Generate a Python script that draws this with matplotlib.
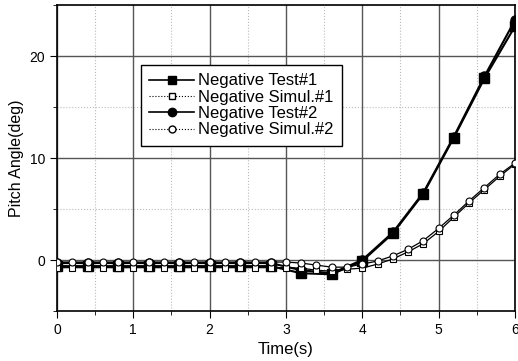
import numpy as np
import matplotlib
matplotlib.use("Agg")
import matplotlib.pyplot as plt
from matplotlib.lines import Line2D
from matplotlib.ticker import MultipleLocator

plt.rcParams['font.family'] = ['Liberation Sans', 'DejaVu Sans']

# Test data sampled every 0.4 s, simulation every 0.2 s
t_test = np.round(np.arange(0, 6.01, 0.4), 2)
t_sim = np.round(np.arange(0, 6.01, 0.2), 2)

test1 = [-0.6, -0.6, -0.6, -0.6, -0.6, -0.6, -0.6, -0.6,
         -1.3, -1.4, -0.1, 2.6, 6.5, 12.0, 17.8, 22.9]
test2 = [-0.3, -0.3, -0.3, -0.3, -0.3, -0.3, -0.3, -0.3,
         -1.0, -1.3, 0.0, 2.7, 6.6, 12.1, 18.0, 23.5]
simul1 = [-0.75] * 16 + [-0.8, -1.0, -1.1, -0.9, -0.8, -0.4, 0.1, 0.8,
                         1.6, 2.8, 4.2, 5.6, 6.9, 8.2, 9.4]
simul2 = [-0.2] * 16 + [-0.3, -0.5, -0.7, -0.7, -0.4, -0.1, 0.4, 1.05,
                        1.9, 3.1, 4.4, 5.8, 7.1, 8.4, 9.5]

labels = ["Negative Test#1", "Negative Simul.#1", "Negative Test#2", "Negative Simul.#2"]

fig = plt.figure(figsize=(5.18, 3.61), dpi=100)
ax = fig.add_axes([0.110, 0.1385, 0.884, 0.8475])

# grid: solid major, dotted minor
ax.xaxis.set_major_locator(MultipleLocator(1))
ax.xaxis.set_minor_locator(MultipleLocator(0.5))
ax.yaxis.set_major_locator(MultipleLocator(10))
ax.yaxis.set_minor_locator(MultipleLocator(5))
ax.grid(which='major', color='#555555', linewidth=1.0)
ax.grid(which='minor', color='#bbbbbb', linewidth=0.8, linestyle=':')
ax.set_axisbelow(True)

ax.plot(t_test, test1, color='black', linewidth=1.5, marker='s', markersize=6.5, zorder=2)
ax.plot(t_test, test2, color='black', linewidth=1.5, marker='o', markersize=6.5, zorder=2)
ax.plot(t_sim, simul1, color='black', linewidth=0.9, marker='s', markersize=5,
        markerfacecolor='white', markeredgecolor='black', markeredgewidth=0.8, zorder=3)
ax.plot(t_sim, simul2, color='black', linewidth=0.9, marker='o', markersize=5,
        markerfacecolor='white', markeredgecolor='black', markeredgewidth=0.8, zorder=3)

ax.set_xlim(0, 6)
ax.set_ylim(-5, 25)
ax.set_xlabel("Time(s)", fontsize=12)
ax.set_ylabel("Pitch Angle(deg)", fontsize=11.5)
ax.tick_params(which='both', direction='out', labelsize=10)
ax.tick_params(which='major', length=5)
ax.tick_params(which='minor', length=3)
for s in ax.spines.values():
    s.set_linewidth(1.2)

handles = [
    Line2D([], [], color='black', linewidth=1.2, marker='s', markersize=6),
    Line2D([], [], color='black', linewidth=0.8, linestyle=':', marker='s', markersize=5,
           markerfacecolor='white'),
    Line2D([], [], color='black', linewidth=1.2, marker='o', markersize=6),
    Line2D([], [], color='black', linewidth=0.8, linestyle=':', marker='o', markersize=5,
           markerfacecolor='white'),
]
leg = ax.legend(handles, labels, loc='upper left', bbox_to_anchor=(0.183, 0.804),
                fontsize=12, frameon=True, fancybox=False, edgecolor='black',
                framealpha=1, handlelength=2.7, handletextpad=0.25,
                labelspacing=0.08, borderpad=0.5, borderaxespad=0)
leg.get_frame().set_linewidth(1.0)

fig.savefig("out.png", dpi=100)
